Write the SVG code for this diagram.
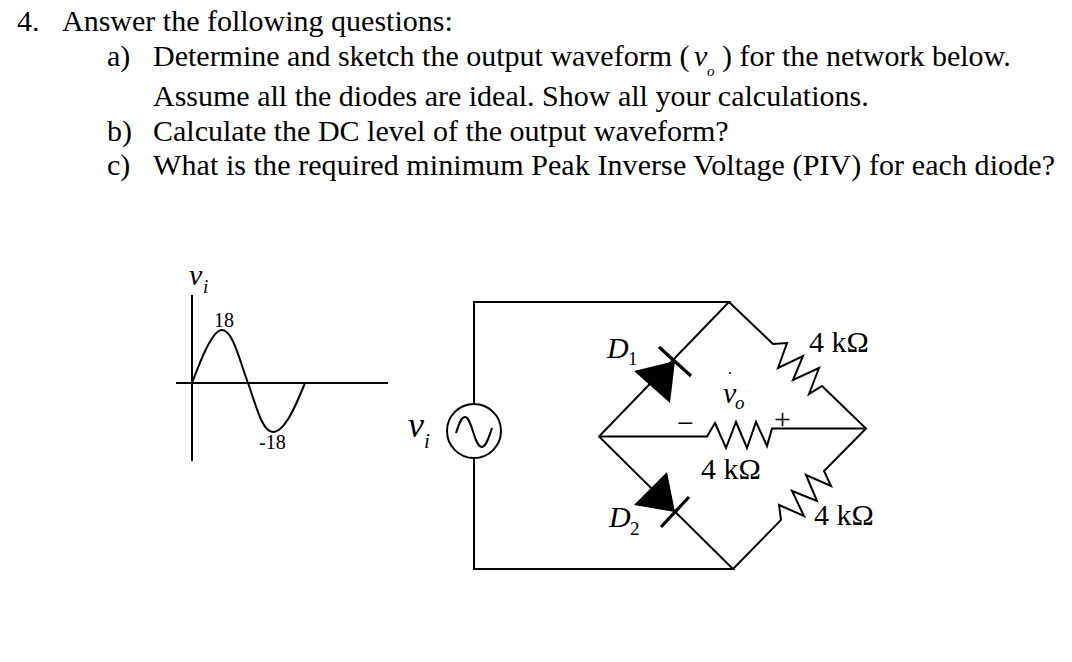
<svg xmlns="http://www.w3.org/2000/svg" width="1072" height="662" viewBox="0 0 1072 662">
<style>
text{font-family:"Liberation Serif","Times New Roman",serif;fill:#000}
.q{font-size:30px}
.l{font-size:30px}
.i{font-style:italic}
.s{font-size:19px}
.w{fill:none;stroke:#000;stroke-width:2;stroke-linejoin:miter}
.b{fill:none;stroke:#000;stroke-width:3.2}
.f{fill:#000;stroke:none}
</style>
<rect width="1072" height="662" fill="#fff"/>
<g id="question">
<text class="q" x="17" y="31">4.</text>
<text class="q" x="62" y="31">Answer the following questions:</text>
<text class="q" x="107" y="66">a)</text>
<text class="q" x="153" y="66">Determine and sketch the output waveform (</text>
<text class="q i" x="694" y="66">v</text>
<text class="i" x="707" y="76" font-size="15px">o</text>
<text class="q" x="722" y="66">) for the network below.</text>
<text class="q" x="153" y="106">Assume all the diodes are ideal. Show all your calculations.</text>
<text class="q" x="107" y="141">b)</text>
<text class="q" x="153" y="141">Calculate the DC level of the output waveform?</text>
<text class="q" x="107" y="175">c)</text>
<text class="q" x="153" y="175" textLength="902">What is the required minimum Peak Inverse Voltage (PIV) for each diode?</text>
</g>
<g id="waveform">
<path class="w" d="M192 295V461M176 383H388"/>
<path class="w" d="M192 383C200 362 212 330 222 330C233 330 240 362 248 383C256 405 262 432 273 432C285 432 296 405 305 383"/>
<text class="i" x="189" y="285" font-size="30">v</text>
<text class="s i" x="203" y="293">i</text>
<text x="214" y="327" font-size="20">18</text>
<text x="259" y="449" font-size="20">-18</text>
</g>
<g id="connectors">
<path class="w" d="M474 403V302H729L599 436.500L733 569H474V458"/>
<path class="w" d="M729 302L773 344L787 343L778 368L803 356L793 380L819 368L809 394L822 386L866 428.500L824 471L831 486L806 475L817 501L792 491L804 516L779 505L781 520L733 569"/>
<path class="w" d="M599 436.500H707L715 423L726 448L736 422L747 448L756 422L767 446L772 428.500H866"/>
</g>
<g id="source">
<circle cx="474" cy="431" r="27" fill="#fff" stroke="#000" stroke-width="2"/>
<path class="w" d="M456 433C459 424 461 417 465 417C472 417 474 447 482 447C486 447 489 437 492 428"/>
<text class="i" x="408" y="437" font-size="36">v</text>
<text class="i" x="424" y="448" font-size="21">i</text>
</g>
<g id="d1">
<path class="f" d="M634 371L675 361L670 403Z"/>
<path class="b" d="M659 347L691 376"/>
<text class="l i" x="607" y="358">D</text>
<text class="s" x="628" y="365">1</text>
</g>
<g id="d2">
<path class="f" d="M667 472L634 505L675 512Z"/>
<path class="b" d="M689 497L661 527"/>
<text class="l i" x="609" y="527">D</text>
<text class="s" x="630" y="535">2</text>
</g>
<g id="r1"><text class="l" x="809" y="352">4 kΩ</text></g>
<g id="r2"><text class="l" x="701" y="479">4 kΩ</text></g>
<g id="r3"><text class="l" x="814" y="525">4 kΩ</text></g>
<g id="vo">
<text class="l i" x="723" y="403">v</text>
<text class="s i" x="735" y="409">o</text>
<circle class="f" cx="730" cy="373" r="1"/>
<text class="l" x="677" y="433">−</text>
<text class="l" x="774" y="429">+</text>
</g>
</svg>
